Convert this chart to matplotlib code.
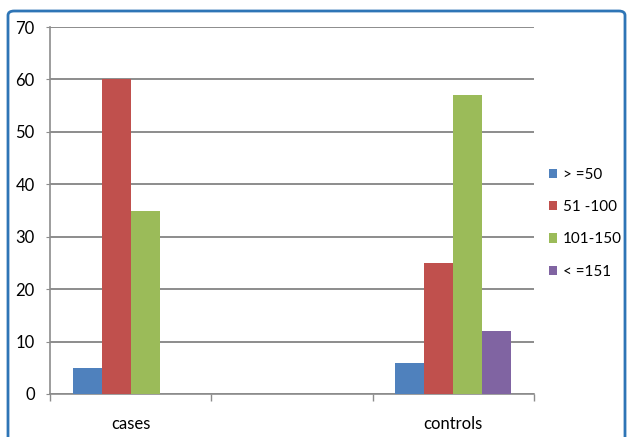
import matplotlib
matplotlib.use("Agg")
import matplotlib.pyplot as plt
import numpy as np
from matplotlib.patches import FancyBboxPatch

# Data
groups = ['cases', '', 'controls']
series_labels = ['> =50', '51 -100', '101-150', '< =151']
gt50 = [5, 0, 6]
r51_100 = [60, 0, 25]
r101_150 = [35, 0, 57]
lt151 = [0, 0, 12]
series = [gt50, r51_100, r101_150, lt151]
colors = ['#4F81BD', '#C0504D', '#9BBB59', '#8064A2']

plt.rcParams['font.family'] = ['Lato', 'DejaVu Sans']

fig = plt.figure(figsize=(6.27, 4.37), dpi=100)
ax = fig.add_axes([50/627, 1 - 394/437, 484/627, 367/437])

x = np.arange(len(groups))
width = 0.18
for i, (vals, col, lab) in enumerate(zip(series, colors, series_labels)):
    ax.bar(x + (i - 1.5) * width, vals, width, color=col, label=lab, zorder=3)

ax.set_xlim(-0.5, len(groups) - 0.5)
ax.set_ylim(0, 70)
ax.set_yticks(range(0, 71, 10))
ax.yaxis.grid(True, color='#8c8c8c', linewidth=1.4, zorder=0)
ax.tick_params(axis='y', length=3, color='#8c8c8c', labelsize=12, pad=8)

# category boundaries as major ticks, names as minor ticks
ax.set_xticks(np.arange(-0.5, len(groups), 1.0))
ax.set_xticklabels([])
ax.set_xticks(x, minor=True)
ax.set_xticklabels(groups, minor=True)
ax.tick_params(axis='x', which='major', length=5, color='#8c8c8c', width=1)
ax.tick_params(axis='x', which='minor', length=0, labelsize=12, pad=16)

for s in ['top', 'right']:
    ax.spines[s].set_visible(False)
for s in ['left', 'bottom']:
    ax.spines[s].set_color('#8c8c8c')
    ax.spines[s].set_linewidth(1.2)

leg = fig.legend(loc='upper left', bbox_to_anchor=(535/627, 1 - 154/437),
                 frameon=False, fontsize=11, handlelength=0.55, handleheight=0.55,
                 handletextpad=0.4, labelspacing=1.2)

# outer chart border
border = FancyBboxPatch((8/627, -0.05), 617/627, 1.05 - 11/437,
                        boxstyle='round,pad=0,rounding_size=0.01',
                        transform=fig.transFigure, fill=False,
                        edgecolor='#2E75B6', linewidth=2)
fig.patches.append(border)

fig.savefig('out.png', dpi=100)
